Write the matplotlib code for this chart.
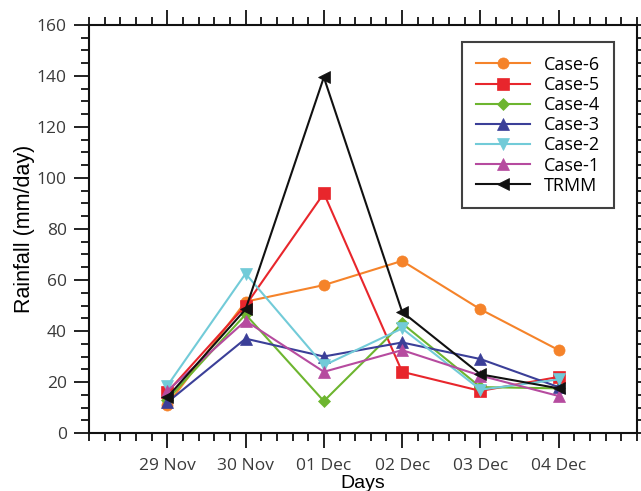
import matplotlib.pyplot as plt
from matplotlib.ticker import MultipleLocator
import numpy as np

days = ['29 Nov', '30 Nov', '01 Dec', '02 Dec', '03 Dec', '04 Dec']
case6 = [11, 51.5, 58, 67.5, 48.5, 32.5]
case5 = [16, 50, 94, 24, 16.5, 22]
case4 = [13, 46.5, 12.5, 43, 18, 17.5]
case3 = [12, 37, 30, 35.5, 29, 18]
case2 = [18.5, 62.5, 26.5, 41, 17, 21]
case1 = [16.5, 44, 24, 32.5, 22.5, 14.5]
trmm = [14, 48.5, 139.5, 47.5, 23, 17.5]

series = [
    ('Case-6', case6, '#F5832A', 'o', 8),
    ('Case-5', case5, '#E8262C', 's', 8),
    ('Case-4', case4, '#6DB52F', 'D', 6),
    ('Case-3', case3, '#3B3F98', '^', 9),
    ('Case-2', case2, '#72CBD8', 'v', 9),
    ('Case-1', case1, '#B64B9F', '^', 9),
    ('TRMM', trmm, '#111111', '<', 9),
]

plt.rcParams['font.family'] = ['Open Sans', 'DejaVu Sans']

fig = plt.figure(figsize=(6.41, 4.91), dpi=100)
ax = fig.add_axes([89 / 641, 58 / 491, 548 / 641, 408 / 491])

x = np.arange(len(days))
for name, vals, col, mk, ms in series:
    ax.plot(x, vals, color=col, marker=mk, markersize=ms, linewidth=1.5,
            label=name, markeredgewidth=0.5, markeredgecolor=col)

ax.set_xlim(-1, 6)
ax.set_ylim(0, 160)
ax.set_xticks(x)
ax.set_xticklabels(days)
ax.xaxis.set_minor_locator(MultipleLocator(0.2))
ax.yaxis.set_major_locator(MultipleLocator(20))
ax.yaxis.set_minor_locator(MultipleLocator(5))

ax.tick_params(which='both', direction='out', top=True, right=True,
               width=1.3, colors='#111111', labelcolor='#3a3a3a', labelsize=12.5)
ax.tick_params(which='major', length=11)
ax.tick_params(which='minor', length=6)
ax.tick_params(axis='x', which='major', pad=7)
ax.tick_params(axis='y', which='major', pad=5)
for s in ax.spines.values():
    s.set_linewidth(1.5)
    s.set_color('#111111')

ax.set_ylabel('Rainfall (mm/day)', fontsize=15.5, family='Liberation Sans', labelpad=1)
ax.set_xlabel('Days', fontsize=14, family='Liberation Sans', labelpad=1)

leg = ax.legend(loc='upper right', bbox_to_anchor=(0.958, 0.958), fontsize=13,
                frameon=True, fancybox=False, edgecolor='#111111',
                handlelength=3.0, handletextpad=0.8, labelspacing=0.12,
                borderpad=0.75, borderaxespad=0)
leg.get_frame().set_linewidth(1.5)

fig.savefig('out.png', dpi=100)
